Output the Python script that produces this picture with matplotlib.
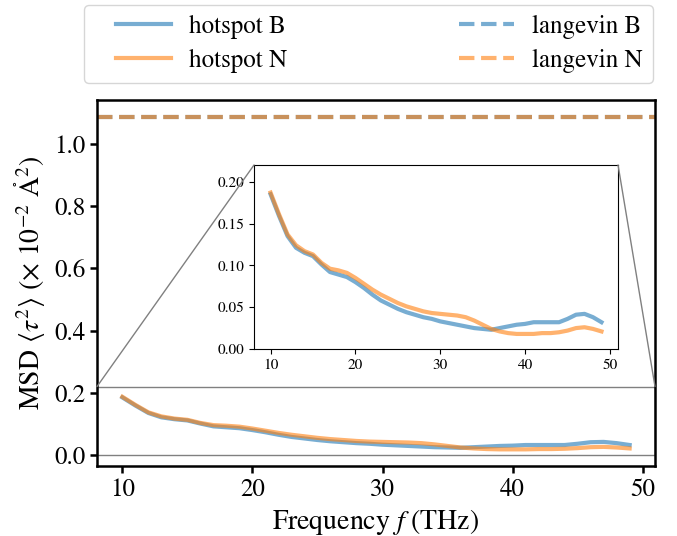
import numpy as np
import matplotlib
matplotlib.use("Agg")
import matplotlib.pyplot as plt
from matplotlib.patches import ConnectionPatch, Rectangle
from matplotlib.lines import Line2D
from matplotlib.legend_handler import HandlerLine2D

plt.rcParams['font.family'] = 'serif'
plt.rcParams['font.serif'] = ['STIXGeneral', 'Liberation Serif', 'DejaVu Serif']
plt.rcParams['mathtext.fontset'] = 'stix'

freq = list(range(10, 50))
hotspot_B = [0.185, 0.159, 0.135, 0.121, 0.115, 0.111, 0.101, 0.092, 0.089, 0.086,
             0.080, 0.073, 0.065, 0.058, 0.053, 0.048, 0.044, 0.041, 0.038, 0.036,
             0.033, 0.031, 0.029, 0.027, 0.025, 0.024, 0.023, 0.025, 0.027, 0.029,
             0.030, 0.032, 0.032, 0.032, 0.032, 0.036, 0.041, 0.042, 0.038, 0.032]
hotspot_N = [0.187, 0.161, 0.137, 0.124, 0.117, 0.113, 0.103, 0.096, 0.094, 0.091,
             0.085, 0.078, 0.071, 0.065, 0.060, 0.055, 0.051, 0.048, 0.045, 0.043,
             0.042, 0.041, 0.040, 0.038, 0.034, 0.029, 0.024, 0.021, 0.019, 0.018,
             0.018, 0.018, 0.019, 0.019, 0.020, 0.022, 0.025, 0.026, 0.024, 0.021]
langevin_B = 1.088
langevin_N = 1.088
inset_ylim = (0.0, 0.22)

blue, orange = 'tab:blue', 'tab:orange'
alpha = 0.6
lw = 3

fig = plt.figure(figsize=(6.77, 5.36), dpi=100)
ax = fig.add_axes([0.1433, 0.1306, 0.8242, 0.6828])

ax.plot(freq, hotspot_B, color=blue, alpha=alpha, lw=lw, label='hotspot B')
ax.plot(freq, hotspot_N, color=orange, alpha=alpha, lw=lw, label='hotspot N')
ax.axhline(langevin_B, color=blue, alpha=alpha, lw=lw, ls='--', label='langevin B')
ax.axhline(langevin_N, color=orange, alpha=alpha, lw=lw, ls='--', label='langevin N')

ax.set_yticks([0.0, 0.2, 0.4, 0.6, 0.8, 1.0])
ax.tick_params(labelsize=18, width=1.8, length=5)
for s in ax.spines.values():
    s.set_linewidth(1.8)
ax.set_xlabel(r'Frequency $f$ (THz)', fontsize=20)
ax.set_ylabel(r'MSD $\langle\tau^2\rangle$ ($\times$ $10^{-2}$ $\mathring{\mathrm{A}}^2$)',
              fontsize=20, labelpad=4)

x0, x1 = ax.get_xlim()

axins = fig.add_axes([0.3752, 0.3489, 0.5377, 0.3433])
axins.plot(freq, hotspot_B, color=blue, alpha=alpha, lw=lw)
axins.plot(freq, hotspot_N, color=orange, alpha=alpha, lw=lw)
axins.set_xlim(x0, x1)
axins.set_ylim(*inset_ylim)
axins.set_yticks([0.0, 0.05, 0.10, 0.15, 0.20])
axins.tick_params(labelsize=11)

rect = Rectangle((x0, inset_ylim[0]), x1 - x0, inset_ylim[1] - inset_ylim[0],
                 fill=False, edgecolor='0.5', lw=1, zorder=1)
ax.add_patch(rect)
for xa, xb in [(x0, 0), (x1, 1)]:
    cp = ConnectionPatch(xyA=(xa, inset_ylim[1]), coordsA=ax.transData,
                         xyB=(xb, 1), coordsB=axins.transAxes,
                         color='0.5', lw=1)
    fig.add_artist(cp)
ax.set_xlim(x0, x1)

fig.legend(*ax.get_legend_handles_labels(), loc='lower left',
           bbox_to_anchor=(0.124, 0.845, 0.840, 0.15), mode='expand',
           borderaxespad=0, ncol=2, fontsize=18, handlelength=3.1,
           handletextpad=0.72, labelspacing=0.4,
           handler_map={Line2D: HandlerLine2D(xpad=0.88)})

fig.savefig('out.png', dpi=100)
